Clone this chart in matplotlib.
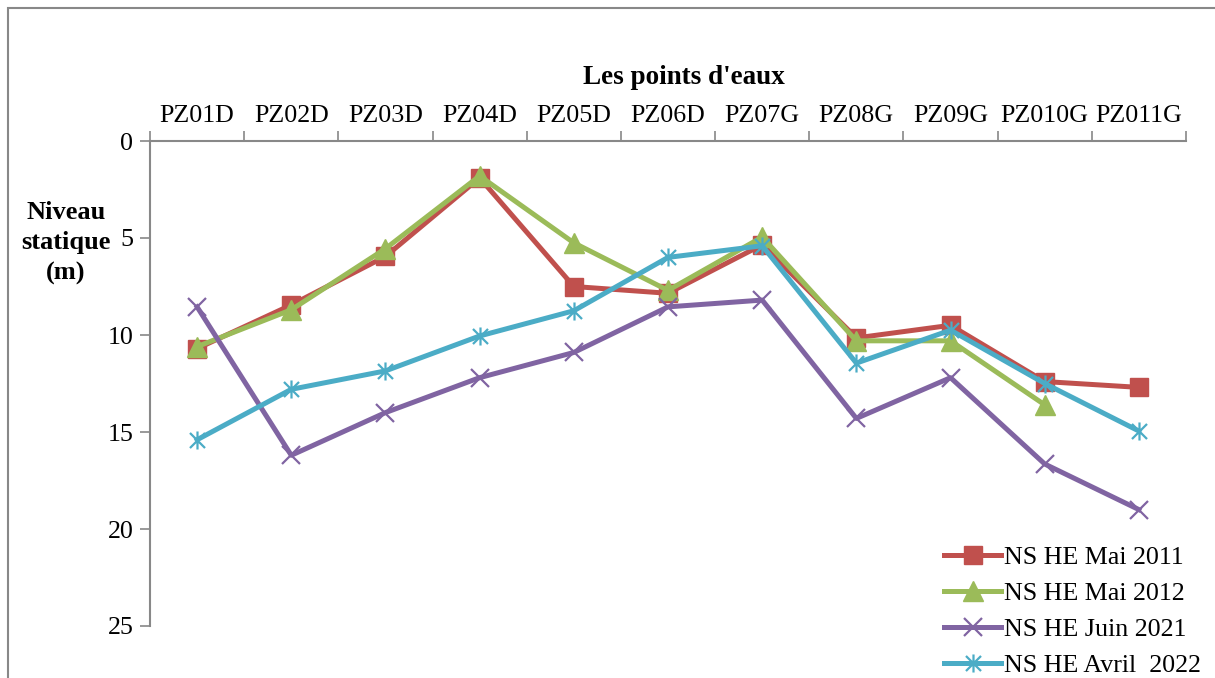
import matplotlib
matplotlib.use("Agg")
import matplotlib.pyplot as plt
from matplotlib.path import Path
from matplotlib.patches import Rectangle

#   Les points d'eaux (categories)
points = ['PZ01D', 'PZ02D', 'PZ03D', 'PZ04D', 'PZ05D', 'PZ06D',
          'PZ07G', 'PZ08G', 'PZ09G', 'PZ010G', 'PZ011G']

#   Niveau statique (m) per campaign
mai_2011 = [10.7, 8.45, 5.95, 1.9, 7.5, 7.85, 5.35, 10.15, 9.5, 12.4, 12.7]
mai_2012 = [10.6, 8.7, 5.55, 1.8, 5.25, 7.7, 4.95, 10.3, 10.3, 13.6, None]
juin_2021 = [8.55, 16.2, 14.0, 12.2, 10.9, 8.55, 8.2, 14.3, 12.2, 16.65, 19.0]
avril_2022 = [15.4, 12.8, 11.85, 10.05, 8.75, 6.0, 5.4, 11.45, 9.75, 12.5, 14.95]

series = [
    ('NS HE Mai 2011', mai_2011),
    ('NS HE Mai 2012', mai_2012),
    ('NS HE Juin 2021', juin_2021),
    ('NS HE Avril  2022', avril_2022),
]

plt.rcParams['font.family'] = ['Liberation Serif', 'DejaVu Serif']

# excel-like asterisk marker
star = Path([(-1, -1), (1, 1), (-1, 1), (1, -1), (0, -1.2), (0, 1.2)],
            [Path.MOVETO, Path.LINETO, Path.MOVETO, Path.LINETO, Path.MOVETO, Path.LINETO])

styles = [
    dict(color='#C0504D', marker='s', markersize=13),
    dict(color='#9BBB59', marker='^', markersize=14),
    dict(color='#8064A2', marker='x', markersize=13, markeredgewidth=1.6),
    dict(color='#4BACC6', marker=star, markersize=13, markeredgewidth=1.6),
]

W, H = 1215, 678
fig = plt.figure(figsize=(W / 100, H / 100), dpi=100)
ax = fig.add_axes([150 / W, 1 - 626 / H, (1186 - 150) / W, (626 - 141) / H])

x = list(range(len(points)))
for (name, vals), st in zip(series, styles):
    yv = [float('nan') if v is None else v for v in vals]
    ax.plot(x, yv, linewidth=3.6, label=name, **st)

ax.set_xlim(-0.5, len(points) - 0.5)
ax.set_ylim(25, 0)
ax.set_yticks([0, 5, 10, 15, 20, 25])

ax.xaxis.tick_top()
ax.set_xticks(x)
ax.set_xticklabels(points, fontsize=18.7)
ax.set_xticks([i - 0.5 for i in range(len(points) + 1)], minor=True)
ax.tick_params(axis='x', which='major', length=0, pad=10)
ax.tick_params(axis='x', which='minor', length=7, color='#888888', width=1.2, direction='out')
ax.tick_params(axis='y', length=7, color='#888888', width=1.2, labelsize=18.7, pad=5)

for s in ['right', 'bottom']:
    ax.spines[s].set_visible(False)
for s in ['top', 'left']:
    ax.spines[s].set_color('#888888')
    ax.spines[s].set_linewidth(1.5)

fig.text(684 / W, 1 - 77 / H, "Les points d'eaux", fontsize=19.5, fontweight='bold',
         ha='center', va='center')
fig.text(66 / W, 1 - 243 / H, "Niveau\nstatique\n(m)", fontsize=19, fontweight='bold',
         ha='center', va='center', linespacing=1.4)

leg = fig.legend(loc='lower left', bbox_to_anchor=(931 / W, -0.018), frameon=False,
                 fontsize=18.7, handlelength=2.2, handletextpad=0.1, labelspacing=0.5,
                 borderaxespad=0.1)

# outer chart border (only top and left visible)
fig.patches.append(Rectangle((8 / W, -0.5), 2, 1.5 - 8 / H, transform=fig.transFigure,
                             fill=False, edgecolor='#888888', linewidth=1.5))

fig.savefig('out.png', dpi=100)
